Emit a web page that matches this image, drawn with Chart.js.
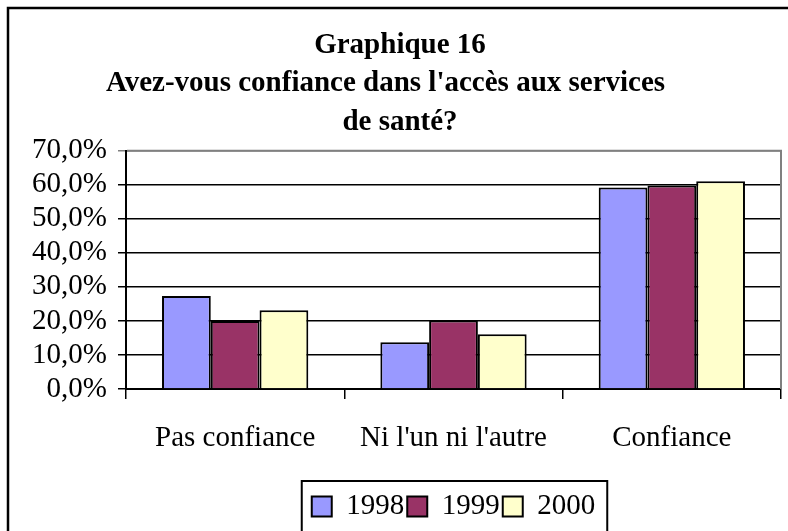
<!DOCTYPE html>
<html>
<head>
<meta charset="utf-8">
<script src="https://cdn.jsdelivr.net/npm/chart.js@4"></script>
<style>
  html, body { margin: 0; padding: 0; background: #fff; }
  #wrap { width: 788px; height: 531px; }
</style>
</head>
<body>
<div id="wrap"><canvas id="chart"></canvas></div>
<script>
const categories = ['Pas confiance', "Ni l'un ni l'autre", 'Confiance'];
const seriesNames = ['1998', '1999', '2000'];
const values1998 = [27.3, 13.7, 59.2];
const values1999 = [20.0, 20.1, 59.8];
const values2000 = [23.1, 16.1, 61.0];
const yTicks = [0, 10, 20, 30, 40, 50, 60, 70];
const titleLines = ['Graphique 16', "Avez-vous confiance dans l'accès aux services    ", 'de santé?'];

const serif = "'Liberation Serif', 'Times New Roman', serif";

const frame = {
  id: 'frame',
  beforeDraw(chart) {
    const c = chart.ctx;
    c.save();
    c.fillStyle = '#fff';
    c.fillRect(0, 0, chart.width, chart.height);
    c.strokeStyle = '#000';
    c.lineWidth = 2.5;
    c.beginPath();
    c.moveTo(8, chart.height + 5);
    c.lineTo(8, 8);
    c.lineTo(chart.width + 5, 8);
    c.stroke();
    c.restore();
  },
  afterDraw(chart) {
    const c = chart.ctx;
    const a = chart.chartArea;
    c.save();
    // plot area border (top / right)
    c.strokeStyle = '#808080';
    c.lineWidth = 2;
    c.beginPath();
    c.moveTo(a.left + 1, a.top);
    c.lineTo(a.right, a.top);
    c.lineTo(a.right, a.bottom);
    c.stroke();
    // legend box
    const boxes = chart.legend.legendHitBoxes;
    if (boxes && boxes.length) {
      const l = Math.min(...boxes.map(b => b.left)) - 10;
      const r = Math.max(...boxes.map(b => b.left + b.width)) + 12;
      const t = boxes[0].top - 11;
      c.strokeStyle = '#000';
      c.lineWidth = 2;
      c.strokeRect(l, t, r - l, chart.height + 10 - t);
    }
    c.restore();
  }
};

new Chart(document.getElementById('chart'), {
  type: 'bar',
  data: {
    labels: categories,
    datasets: [
      { label: seriesNames[0], data: values1998, backgroundColor: '#9999FF' },
      { label: seriesNames[1], data: values1999, backgroundColor: '#993366' },
      { label: seriesNames[2], data: values2000, backgroundColor: '#FFFFCC' }
    ].map(d => Object.assign(d, { borderColor: '#000', borderWidth: 2, categoryPercentage: 0.67, barPercentage: 1 }))
  },
  options: {
    responsive: true,
    maintainAspectRatio: false,
    animation: false,
    layout: { padding: { left: 19, right: 7, top: 0, bottom: 0 } },
    plugins: {
      title: {
        display: true,
        text: titleLines,
        color: '#000',
        font: { family: serif, size: 29, weight: 'bold', lineHeight: 1.33 },
        padding: { top: 26, bottom: 9 }
      },
      legend: {
        position: 'bottom',
        fullSize: false,
        labels: {
          color: '#000',
          font: { family: serif, size: 29 },
          boxWidth: 20,
          boxHeight: 20,
          padding: 3
        }
      },
      tooltip: { enabled: false }
    },
    scales: {
      x: {
        grid: { drawOnChartArea: false, drawTicks: true, tickLength: 10, offset: true, color: '#000', lineWidth: 1.5 },
        border: { color: '#000', width: 2 },
        ticks: { color: '#000', font: { family: serif, size: 29 }, padding: 22, maxRotation: 0 },
        afterFit(scale) { scale.height = 100; }
      },
      y: {
        min: 0,
        max: 70,
        afterBuildTicks(scale) { scale.ticks = yTicks.map(v => ({ value: v })); },
        grid: {
          color: ctx => ctx.tick && ctx.tick.value === 70 ? '#808080' : '#000',
          lineWidth: 1.5,
          tickLength: 8,
          drawTicks: true
        },
        border: { color: '#000', width: 2 },
        ticks: {
          color: '#000',
          autoSkip: false,
          font: { family: serif, size: 29 },
          padding: 11,
          callback: v => v.toFixed(1).replace('.', ',') + '%'
        },
        afterFit(scale) { scale.width = 107; }
      }
    }
  },
  plugins: [frame]
});
</script>
</body>
</html>
